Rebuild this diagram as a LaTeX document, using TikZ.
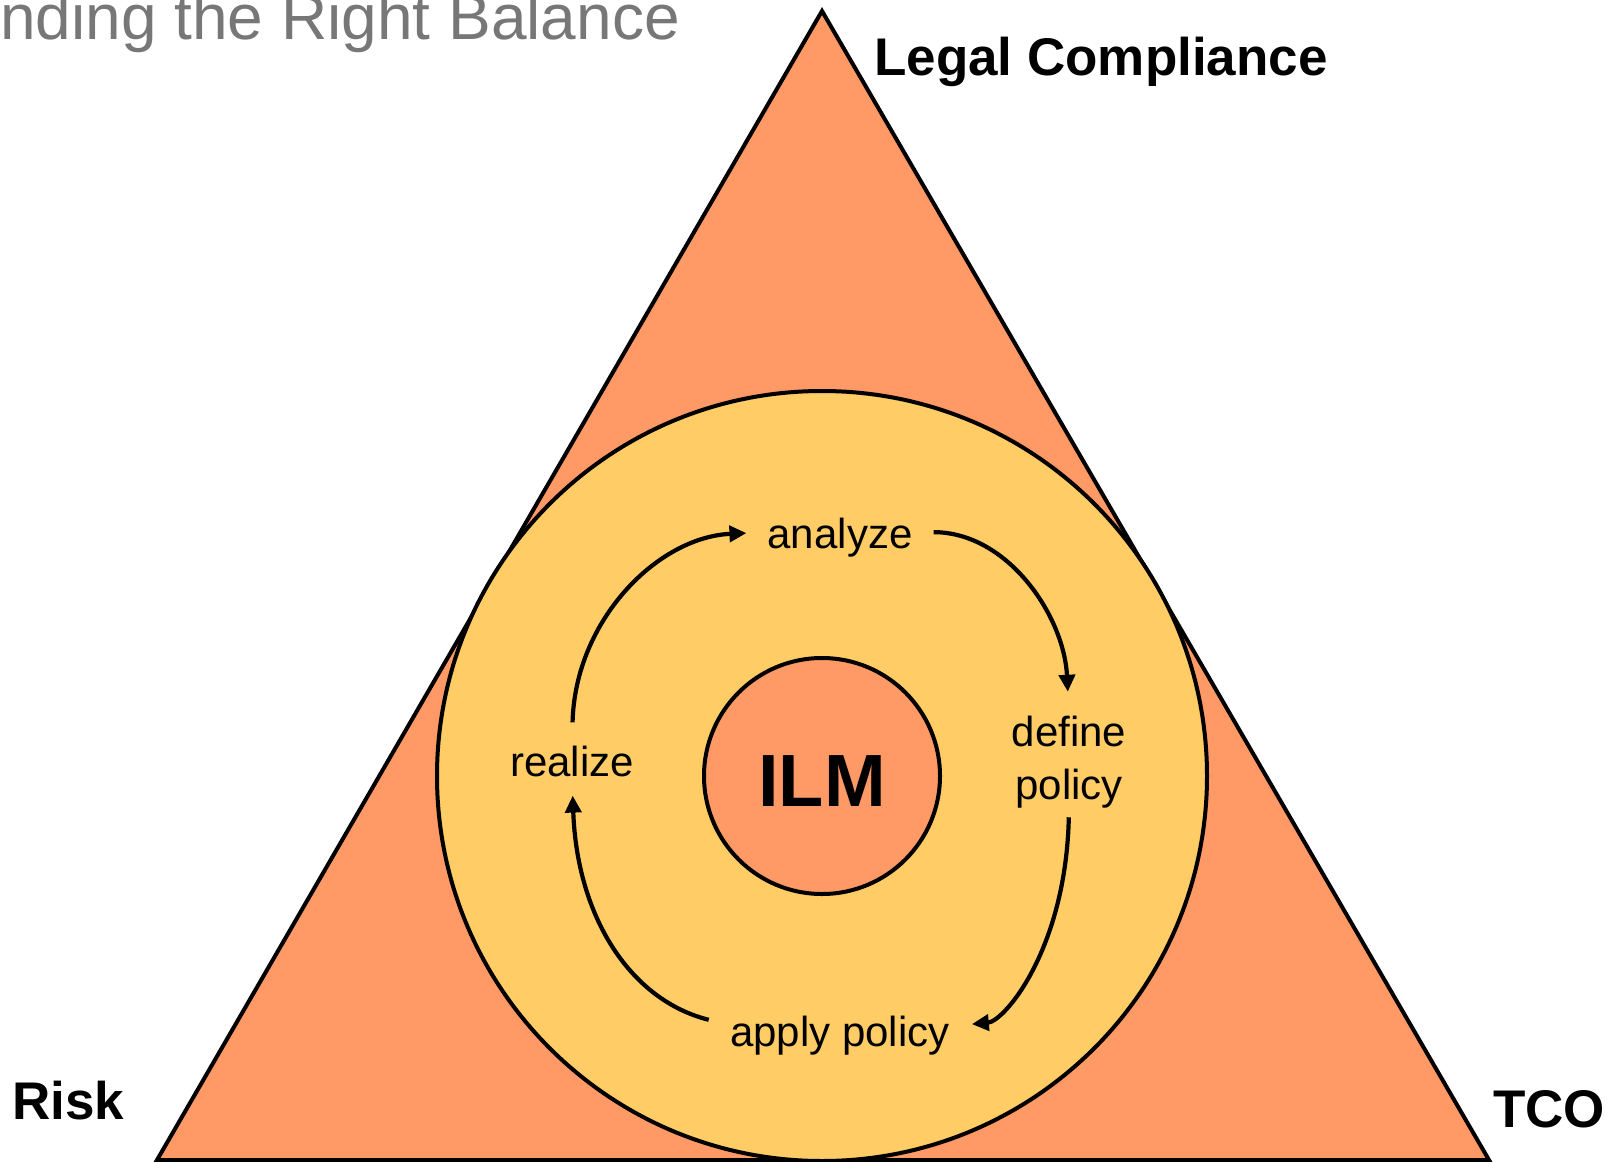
\documentclass[tikz,border=0pt]{standalone}
\usepackage{fontspec}
\setmainfont{Liberation Sans}
\usetikzlibrary{arrows.meta}
\definecolor{tri}{HTML}{FF9966}
\definecolor{ringc}{HTML}{FFCC66}
\definecolor{ttl}{HTML}{777777}
\begin{document}
\begin{tikzpicture}[x=1pt,y=-1pt,
  lbl/.style={inner sep=0pt, font=\fontsize{42}{53}\selectfont},
  cornerlbl/.style={inner sep=0pt, anchor=base west, font=\bfseries\fontsize{53}{60}\selectfont},
  arr/.style={line width=4.2pt, -{Triangle[length=17pt,width=16pt]}},
  outline/.style={line width=4pt, draw=black}]
\useasboundingbox (0,0) rectangle (1612,1162);
% triangle
\draw[outline, fill=tri, line join=miter] (822,11) -- (157,1160) -- (1489,1160) -- cycle;
% circles
\node[circle, outline, fill=ringc, minimum size=770pt, inner sep=0pt] (ring) at (822,776) {};
\node[circle, outline, fill=tri, minimum size=236pt, inner sep=0pt] (core) at (822,776) {};
\node[inner sep=0pt, anchor=base, font=\bfseries\fontsize{74}{80}\selectfont] (ilm) at (822,806) {ILM};
% title
\node[inner sep=0pt, anchor=base west, text=ttl, font=\fontsize{64}{70}\selectfont] (title) at (0,39) {nding the Right Balance};
% corner labels
\node[cornerlbl] (legal) at (874,75) {Legal Compliance};
\node[cornerlbl] (risk) at (12,1119) {Risk};
\node[cornerlbl] (tco) at (1493,1127) {TCO};
% cycle labels
\node[lbl, anchor=base] (analyze) at (840,548) {analyze};
\node[lbl, anchor=base] (realize) at (572,776) {realize};
\node[lbl, anchor=base] (apply) at (840,1046) {apply policy};
\node[lbl, align=center] (define) at (1069,762) {define\\policy};
% arrows
\draw[arr, shorten <=23pt, shorten >=21pt] (realize.north) .. controls +(3,-125) and +(-110,5) .. ([yshift=5pt]analyze.west);
\draw[arr, shorten <=21pt, shorten >=24pt] ([yshift=5pt]analyze.east) .. controls +(95,0) and +(-5,-100) .. (define.north);
\draw[arr, shorten <=9pt, shorten >=22pt] (define.south) .. controls +(-3,140) and +(55,-5) .. ([yshift=9pt]apply.east);
\draw[arr, shorten <=22pt, shorten >=19pt] ([yshift=10pt]apply.west) .. controls +(-100,-25) and +(5,140) .. (realize.south);
\end{tikzpicture}
\end{document}
